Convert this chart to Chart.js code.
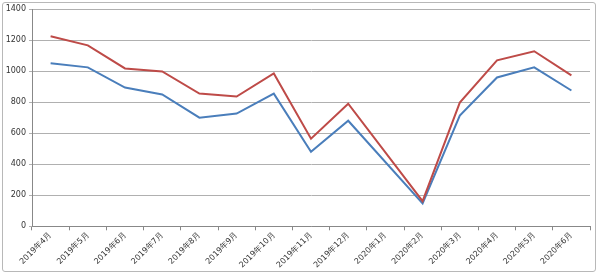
<!DOCTYPE html>
<html>
<head>
<meta charset="utf-8">
<script src="https://cdn.jsdelivr.net/npm/chart.js@4/dist/chart.umd.min.js"></script>
<style>
  html, body { margin:0; padding:0; background:#fff; }
  #wrap { position:relative; width:600px; height:276px; }
  #frame { position:absolute; left:2px; top:2px; width:594px; height:270px;
           border:1px solid #b8b8b8; border-radius:3px; box-sizing:border-box; pointer-events:none; }
  canvas { position:absolute; left:0; top:0; }
</style>
</head>
<body>
<div id="wrap">
  <canvas id="chart" width="600" height="276"></canvas>
  <div id="frame"></div>
</div>
<script>
// months (2020年1月 has no separate figure, the line spans it)
const categories = ['2019年4月','2019年5月','2019年6月','2019年7月','2019年8月','2019年9月','2019年10月',
  '2019年11月','2019年12月','2020年1月','2020年2月','2020年3月','2020年4月','2020年5月','2020年6月'];
const seriesRed  = [1225, 1166, 1017, 998, 855, 836, 985, 564, 790, null, 162, 797, 1069, 1128, 972];
const seriesBlue = [1050, 1024, 894, 849, 700, 726, 855, 480, 680, null, 148, 713, 959, 1024, 875];
const yTicks = [0, 200, 400, 600, 800, 1000, 1200, 1400];

Chart.defaults.font.family = "'DejaVu Sans', sans-serif";
Chart.defaults.color = '#333';

const ctx = document.getElementById('chart').getContext('2d');
new Chart(ctx, {
  type: 'line',
  data: {
    labels: categories,
    datasets: [
      { label: 'A', data: seriesRed,  borderColor: '#be4b48', borderWidth: 2, pointRadius: 0, tension: 0, spanGaps: true },
      { label: 'B', data: seriesBlue, borderColor: '#4a7ebb', borderWidth: 2, pointRadius: 0, tension: 0, spanGaps: true }
    ]
  },
  options: {
    responsive: false,
    animation: false,
    layout: { padding: { left: 4, right: 10, top: 9, bottom: 6 } },
    plugins: { legend: { display: false }, tooltip: { enabled: false } },
    scales: {
      x: {
        offset: true,
        grid: { offset: true, drawOnChartArea: false, drawTicks: true, tickLength: 4, color: '#888' },
        border: { color: '#888' },
        ticks: { font: { size: 8 }, maxRotation: 45, minRotation: 45, autoSkip: false, padding: 0 }
      },
      y: {
        min: 0, max: 1400,
        afterBuildTicks: axis => { axis.ticks = yTicks.map(v => ({ value: v })); },
        afterFit: axis => { axis.width = 28; },
        grid: { color: '#b0b0b0', tickLength: 3 },
        border: { color: '#888' },
        ticks: { font: { size: 8 }, padding: 3, callback: v => String(v) }
      }
    }
  }
});
</script>
</body>
</html>
